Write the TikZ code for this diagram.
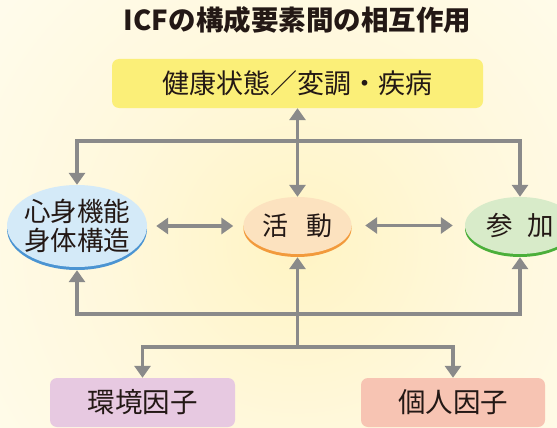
\documentclass[tikz,border=0pt]{standalone}
\usepackage{fontspec}
\setmainfont{Noto Sans CJK JP}
\usetikzlibrary{arrows.meta,shapes.geometric}
\definecolor{ink}{HTML}{231815}
\definecolor{arrgray}{HTML}{8A8A8A}
\definecolor{ybox}{HTML}{FBEF78}
\definecolor{envbox}{HTML}{E7C9E1}
\definecolor{persbox}{HTML}{F7C4B3}
\definecolor{fillB}{HTML}{D4EAF8}
\definecolor{rimB}{HTML}{4B94D2}
\definecolor{fillO}{HTML}{FCE2BF}
\definecolor{rimO}{HTML}{F29A3C}
\definecolor{fillG}{HTML}{D8EBC9}
\definecolor{rimG}{HTML}{4BAF3A}
\definecolor{glowA}{HTML}{FFF4C4}
\definecolor{glowB}{HTML}{FFF8DC}
\definecolor{glowC}{HTML}{FFFCEE}
\pgfdeclareradialshading{bgglow}{\pgfpoint{0bp}{0bp}}{color(0bp)=(glowA); color(12bp)=(glowB); color(26bp)=(glowC); color(38bp)=(white); color(50bp)=(white)}
\begin{document}
\begin{tikzpicture}[x=1pt,y=-1pt,
  gtip/.tip={Triangle[width=16pt,length=12pt]},
  conn/.style={draw=arrgray, line width=3.5pt, line join=miter, -gtip},
  conn2/.style={draw=arrgray, line width=3.5pt, line join=miter, gtip-gtip},
  rbox/.style={rounded corners=7pt, inner sep=0pt, text=ink},
  ell/.style={ellipse, inner sep=0pt, draw=none, preaction={fill=#1, transform canvas={yshift=-3pt}}},
  txt/.style={text=ink, inner sep=0pt, align=center}]
\useasboundingbox (0,0) rectangle (557,428);
\fill[white] (0,0) rectangle (557,428);
\begin{scope}
\clip (0,0) rectangle (557,428);
\shade[shading=bgglow] (-102,-155) rectangle (698,645);
\end{scope}
% title
\node[txt, font=\fontsize{27.5}{30}\selectfont\bfseries] (title) at (297.5,20) {ICFの構成要素間の相互作用};
% top box
\node[rbox, fill=ybox, minimum width=371pt, minimum height=49pt, font=\fontsize{27}{30}\selectfont] (health) at (297.5,83.5) {健康状態／変調・疾病};
% ellipses
\node[ell=rimB, fill=fillB, minimum width=140pt, minimum height=82pt] (body) at (77,226) {};
\node[txt, font=\fontsize{26.5}{29}\selectfont] (bodyT) at (body.center) {心身機能\\身体構造};
\node[ell=rimO, fill=fillO, minimum width=108pt, minimum height=57pt] (act) at (297.5,225.5) {};
\node[txt, font=\fontsize{26}{29}\selectfont] (actT) at (act.center) {活\hspace{18pt}動};
\node[ell=rimG, fill=fillG, minimum width=110pt, minimum height=57pt] (part) at (520,225.5) {};
\node[txt, font=\fontsize{26.5}{29}\selectfont] (partT) at (part.center) {参\hspace{15pt}加};
% bottom boxes
\node[rbox, fill=envbox, minimum width=185pt, minimum height=49pt, font=\fontsize{27.5}{30}\selectfont] (env) at (142.5,402.5) {環境因子};
\node[rbox, fill=persbox, minimum width=184pt, minimum height=49pt, font=\fontsize{27.5}{30}\selectfont] (pers) at (453,402.5) {個人因子};
% coordinates
\coordinate (tl) at (77,141);
\coordinate (tr) at (520,141);
\coordinate (bl) at (77,314);
\coordinate (br) at (520,314);
\coordinate (hub) at (297.5,347);
\coordinate (el) at (142.5,347);
\coordinate (pr) at (453,347);
% connectors
\draw[conn2] (body.north) -- (tl) -- (tr) -- (part.north);
\draw[conn2] (health.south) -- (act.north);
\draw[conn2] ([yshift=-3pt]body.south) -- (bl) -- (br) -- ([yshift=-3pt]part.south);
\draw[conn] (hub) -- ([yshift=-3pt]act.south);
\draw[conn2] (env.north) -- (el) -- (pr) -- (pers.north);
\draw[conn2, shorten <=9pt, shorten >=10pt] (body.east) -- (body.east -| act.west);
\draw[conn2, shorten <=13.5pt, shorten >=12pt] (act.east) -- (act.east -| part.west);
\end{tikzpicture}
\end{document}
